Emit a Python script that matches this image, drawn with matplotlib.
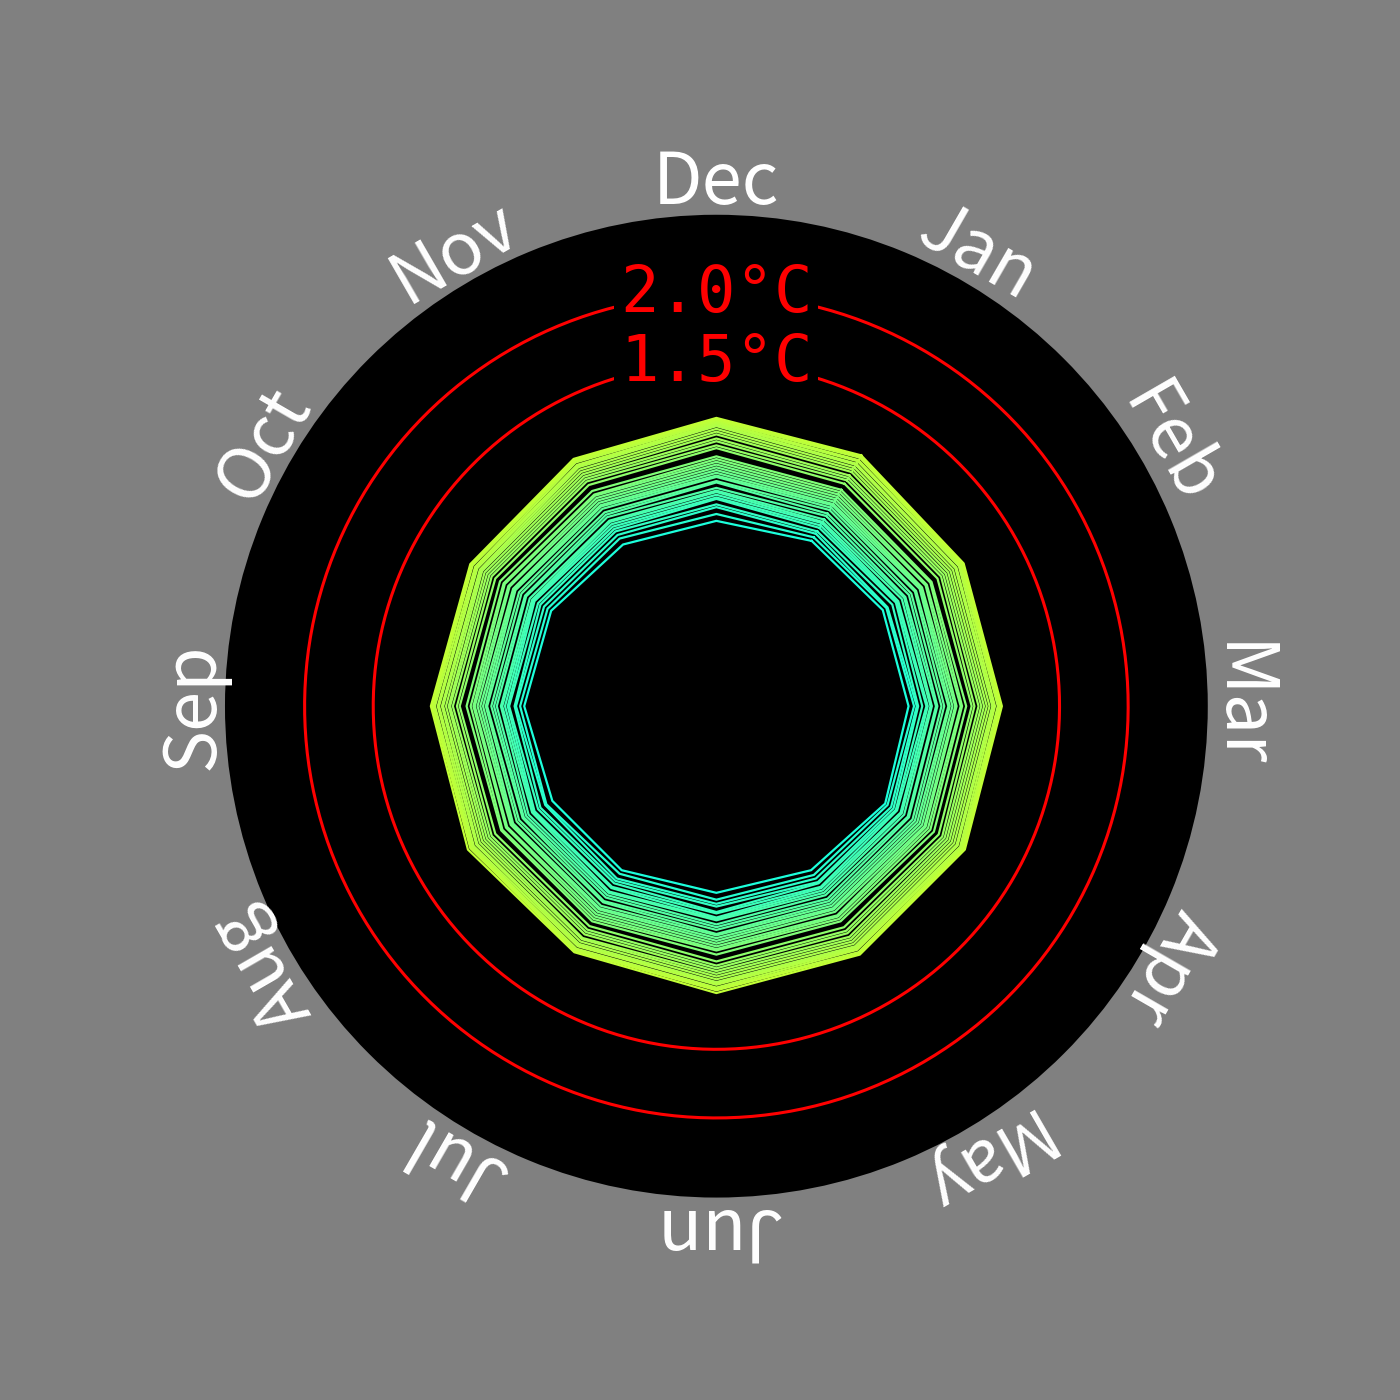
import numpy as np
import matplotlib
matplotlib.use("Agg")
import matplotlib.pyplot as plt

plt.rcParams['font.family'] = ['Noto Sans CJK SC', 'DejaVu Sans']

months = ["Jan", "Feb", "Mar", "Apr", "May", "Jun",
          "Jul", "Aug", "Sep", "Oct", "Nov", "Dec"]

years = list(range(1987, 2022))

# monthly temperature anomalies (°C), one row per year, Jan..Dec
anomalies = [
    [0.39, 0.40, 0.40, 0.42, 0.38, 0.36, 0.38, 0.38, 0.40, 0.39, 0.36, 0.35],
    [0.42, 0.43, 0.44, 0.44, 0.42, 0.41, 0.41, 0.43, 0.43, 0.42, 0.41, 0.40],
    [0.45, 0.44, 0.46, 0.47, 0.45, 0.44, 0.45, 0.44, 0.46, 0.45, 0.44, 0.45],
    [0.47, 0.48, 0.47, 0.49, 0.48, 0.46, 0.47, 0.48, 0.47, 0.48, 0.47, 0.47],
    [0.50, 0.51, 0.50, 0.51, 0.49, 0.50, 0.49, 0.50, 0.51, 0.50, 0.49, 0.51],
    [0.52, 0.52, 0.53, 0.52, 0.52, 0.51, 0.52, 0.53, 0.52, 0.53, 0.51, 0.52],
    [0.54, 0.53, 0.54, 0.55, 0.53, 0.54, 0.53, 0.54, 0.54, 0.54, 0.53, 0.54],
    [0.55, 0.56, 0.56, 0.56, 0.55, 0.55, 0.56, 0.55, 0.56, 0.55, 0.55, 0.56],
    [0.57, 0.58, 0.57, 0.58, 0.57, 0.56, 0.57, 0.58, 0.57, 0.57, 0.56, 0.57],
    [0.60, 0.59, 0.60, 0.61, 0.59, 0.59, 0.59, 0.60, 0.60, 0.60, 0.59, 0.59],
    [0.62, 0.62, 0.61, 0.62, 0.62, 0.61, 0.61, 0.62, 0.62, 0.61, 0.61, 0.63],
    [0.65, 0.64, 0.64, 0.65, 0.64, 0.63, 0.64, 0.63, 0.64, 0.64, 0.63, 0.64],
    [0.67, 0.67, 0.66, 0.67, 0.66, 0.66, 0.65, 0.66, 0.67, 0.66, 0.66, 0.67],
    [0.69, 0.68, 0.69, 0.69, 0.68, 0.67, 0.68, 0.68, 0.68, 0.69, 0.68, 0.68],
    [0.70, 0.71, 0.70, 0.71, 0.70, 0.69, 0.70, 0.71, 0.70, 0.70, 0.69, 0.70],
    [0.72, 0.72, 0.72, 0.73, 0.71, 0.71, 0.71, 0.72, 0.72, 0.71, 0.71, 0.72],
    [0.74, 0.73, 0.74, 0.75, 0.73, 0.73, 0.73, 0.73, 0.74, 0.74, 0.73, 0.74],
    [0.76, 0.76, 0.75, 0.76, 0.76, 0.75, 0.75, 0.76, 0.76, 0.75, 0.75, 0.76],
    [0.78, 0.77, 0.78, 0.78, 0.77, 0.77, 0.77, 0.77, 0.77, 0.78, 0.77, 0.78],
    [0.80, 0.80, 0.79, 0.80, 0.79, 0.78, 0.79, 0.80, 0.79, 0.79, 0.78, 0.80],
    [0.82, 0.81, 0.82, 0.83, 0.81, 0.81, 0.81, 0.81, 0.82, 0.82, 0.81, 0.82],
    [0.87, 0.86, 0.86, 0.87, 0.86, 0.86, 0.85, 0.86, 0.87, 0.86, 0.86, 0.88],
    [0.90, 0.89, 0.88, 0.90, 0.89, 0.89, 0.88, 0.89, 0.89, 0.89, 0.89, 0.90],
    [0.92, 0.91, 0.91, 0.92, 0.91, 0.91, 0.90, 0.91, 0.92, 0.91, 0.91, 0.93],
    [0.94, 0.93, 0.93, 0.94, 0.94, 0.93, 0.92, 0.93, 0.94, 0.93, 0.93, 0.95],
    [0.97, 0.95, 0.95, 0.96, 0.96, 0.95, 0.95, 0.95, 0.95, 0.95, 0.95, 0.98],
    [0.99, 0.97, 0.97, 0.98, 0.98, 0.97, 0.96, 0.97, 0.97, 0.97, 0.97, 1.00],
    [1.01, 0.99, 0.99, 1.00, 1.00, 0.99, 0.98, 0.99, 0.99, 0.98, 0.99, 1.02],
    [1.03, 1.01, 1.01, 1.02, 1.02, 1.01, 1.00, 1.01, 1.00, 0.99, 1.01, 1.04],
    [1.04, 1.02, 1.02, 1.03, 1.03, 1.02, 1.01, 1.02, 1.02, 1.01, 1.02, 1.05],
    [1.06, 1.04, 1.03, 1.05, 1.04, 1.03, 1.02, 1.04, 1.03, 1.02, 1.03, 1.06],
    [1.07, 1.05, 1.05, 1.06, 1.05, 1.05, 1.04, 1.05, 1.05, 1.03, 1.05, 1.07],
    [1.09, 1.06, 1.06, 1.07, 1.07, 1.06, 1.05, 1.06, 1.06, 1.05, 1.06, 1.08],
    [1.10, 1.07, 1.07, 1.08, 1.08, 1.07, 1.06, 1.07, 1.07, 1.06, 1.07, 1.09],
    [1.11, 1.08, 1.08, 1.09, 1.09, 1.09, 1.07, 1.09, 1.08, 1.07, 1.08, 1.10],
]

thresholds = [1.5, 2.0]
threshold_labels = ["1.5°C", "2.0°C"]

r_min, r_max = -1.0, 2.58

fig = plt.figure(figsize=(14, 14), dpi=100, facecolor='#808080')
ax = fig.add_axes([0.1607, 0.1446, 0.702, 0.702], projection='polar')
ax.set_facecolor('black')
ax.set_theta_zero_location('N')
ax.set_theta_direction(-1)
ax.set_ylim(r_min, r_max)
ax.grid(False)
ax.set_xticks([])
ax.set_yticks([])
ax.spines['polar'].set_visible(False)

theta = np.array([(i + 1) * 2 * np.pi / 12 for i in range(12)])
theta_closed = np.append(theta, theta[0])

cmap = plt.get_cmap('jet')
norm = plt.Normalize(r_min, r_max)

for yr, vals in zip(years, anomalies):
    v = np.array(vals)
    v_closed = np.append(v, v[0])
    ax.plot(theta_closed, v_closed, color=cmap(norm(v.mean())), lw=1.6)

full = np.linspace(0, 2 * np.pi, 400)
for t, lab in zip(thresholds, threshold_labels):
    ax.plot(full, np.full_like(full, t), color='red', lw=2.2)
    ax.text(0, t, lab, color='red', fontsize=46, ha='center', va='center',
            family=['DejaVu Sans Mono'],
            bbox=dict(facecolor='black', edgecolor='none', pad=4))

for i, m in enumerate(months):
    ang = np.degrees(theta[i])
    ax.text(theta[i], 2.81, m, color='white', fontsize=52,
            ha='center', va='center', rotation=-ang, rotation_mode='anchor')

fig.savefig('out.png', dpi=100, facecolor=fig.get_facecolor())
